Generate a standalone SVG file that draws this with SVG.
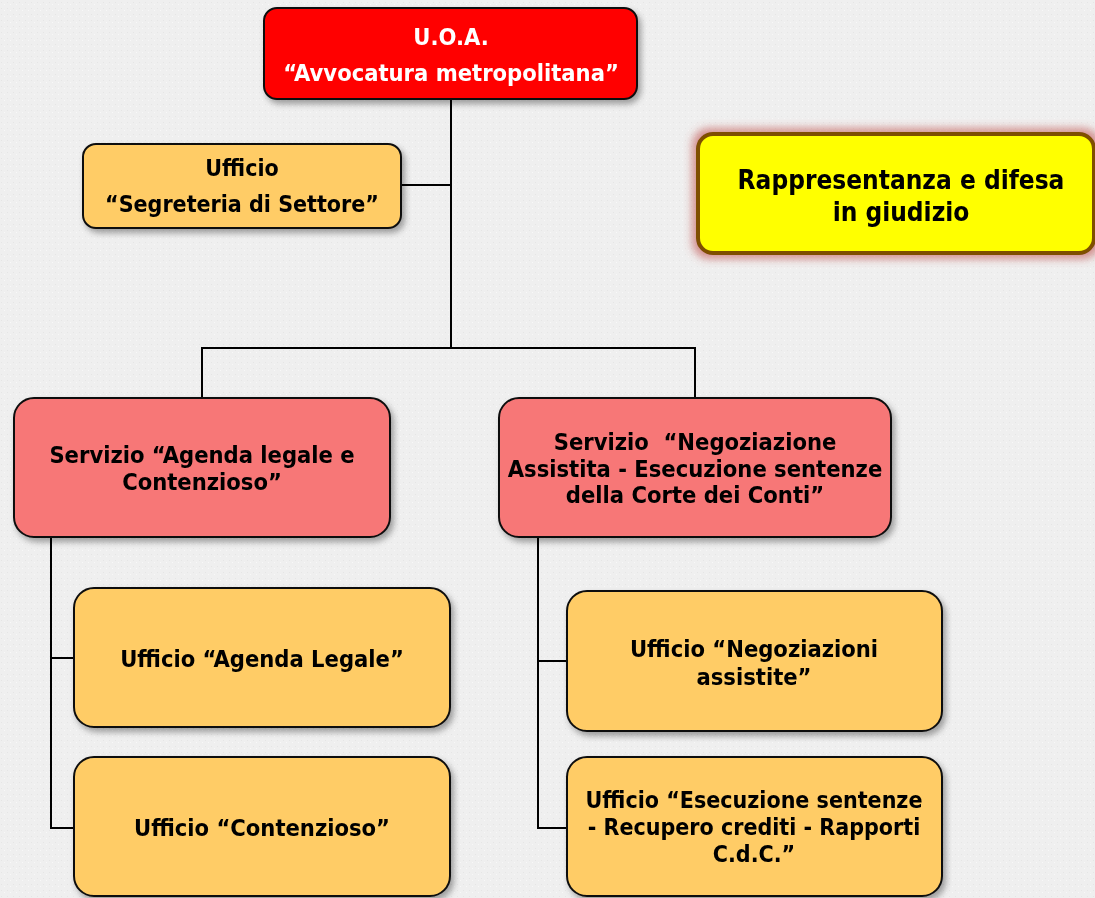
<svg xmlns="http://www.w3.org/2000/svg" width="1095" height="898" viewBox="0 0 1095 898">
<defs>
<filter id="sh" x="-10%" y="-10%" width="130%" height="140%">
<feDropShadow dx="3" dy="4" stdDeviation="3" flood-color="#000" flood-opacity="0.35"/>
</filter>
<filter id="glow" x="-10%" y="-20%" width="130%" height="150%">
<feMorphology in="SourceAlpha" operator="dilate" radius="4" result="d"/>
<feGaussianBlur in="d" stdDeviation="4" result="b"/>
<feFlood flood-color="#c0504d" flood-opacity="0.6"/>
<feComposite in2="b" operator="in" result="g"/>
<feMerge><feMergeNode in="g"/><feMergeNode in="SourceGraphic"/></feMerge>
</filter>
<pattern id="tex" width="6" height="6" patternUnits="userSpaceOnUse">
<rect width="6" height="6" fill="#efefef"/>
<rect x="1" y="2" width="1" height="1" fill="#e5e5e5"/>
<rect x="4" y="4" width="1" height="1" fill="#f8f8f8"/>
</pattern>
</defs>
<style>
.t{font-family:"DejaVu Sans Condensed","DejaVu Sans",sans-serif;font-weight:bold;text-anchor:middle;fill:#000;font-size:23.5px}
.w{fill:#fff}
.box{stroke:#111;stroke-width:2}
.red{fill:#ff0000}
.sal{fill:#f77777}
.org{fill:#ffcc66}
.ln{stroke:#000;stroke-width:2;fill:none}
</style>
<rect width="1095" height="898" fill="url(#tex)"/>
<g id="connectors">
<path class="ln" d="M451 99V348M401 185H451M202 398V348H695V398"/>
<path class="ln" d="M51 537V828H74M51 658H74"/>
<path class="ln" d="M538 537V828H567M538 661H567"/>
</g>
<g id="uoa" filter="url(#sh)">
<rect class="box red" x="264" y="8" width="373" height="91" rx="13"/>
<text class="t w" x="451" y="45">U.O.A.</text>
<text class="t w" x="451" y="81">“Avvocatura metropolitana”</text>
</g>
<g id="segreteria" filter="url(#sh)">
<rect class="box org" x="83" y="144" width="318" height="84" rx="13"/>
<text class="t" x="242" y="176" style="font-size:23px">Ufficio</text>
<text class="t" x="242" y="212" style="font-size:23px">“Segreteria di Settore”</text>
</g>
<g id="rappresentanza" filter="url(#glow)">
<rect x="698" y="134" width="396" height="119" rx="15" fill="#ffff00" stroke="#7f5000" stroke-width="4"/>
<text class="t" x="901" y="189" style="font-size:26px">Rappresentanza e difesa</text>
<text class="t" x="901" y="221" style="font-size:26px">in giudizio</text>
</g>
<g id="servizio1" filter="url(#sh)">
<rect class="box sal" x="14" y="398" width="376" height="139" rx="20"/>
<text class="t" x="202" y="463">Servizio “Agenda legale e</text>
<text class="t" x="202" y="490">Contenzioso”</text>
</g>
<g id="servizio2" filter="url(#sh)">
<rect class="box sal" x="499" y="398" width="392" height="139" rx="20"/>
<text class="t" x="695" y="450" xml:space="preserve">Servizio  “Negoziazione</text>
<text class="t" x="695" y="477">Assistita - Esecuzione sentenze</text>
<text class="t" x="695" y="503">della Corte dei Conti”</text>
</g>
<g id="agenda" filter="url(#sh)">
<rect class="box org" x="74" y="588" width="376" height="139" rx="20"/>
<text class="t" x="262" y="667">Ufficio “Agenda Legale”</text>
</g>
<g id="contenzioso" filter="url(#sh)">
<rect class="box org" x="74" y="757" width="376" height="139" rx="20"/>
<text class="t" x="262" y="836">Ufficio “Contenzioso”</text>
</g>
<g id="negoziazioni" filter="url(#sh)">
<rect class="box org" x="567" y="591" width="375" height="140" rx="20"/>
<text class="t" x="754" y="657">Ufficio “Negoziazioni</text>
<text class="t" x="754" y="685">assistite”</text>
</g>
<g id="esecuzione" filter="url(#sh)">
<rect class="box org" x="567" y="757" width="375" height="139" rx="20"/>
<text class="t" x="754" y="808" style="font-size:23px">Ufficio “Esecuzione sentenze</text>
<text class="t" x="754" y="835" style="font-size:23px">- Recupero crediti - Rapporti</text>
<text class="t" x="754" y="862" style="font-size:23px">C.d.C.”</text>
</g>
</svg>
